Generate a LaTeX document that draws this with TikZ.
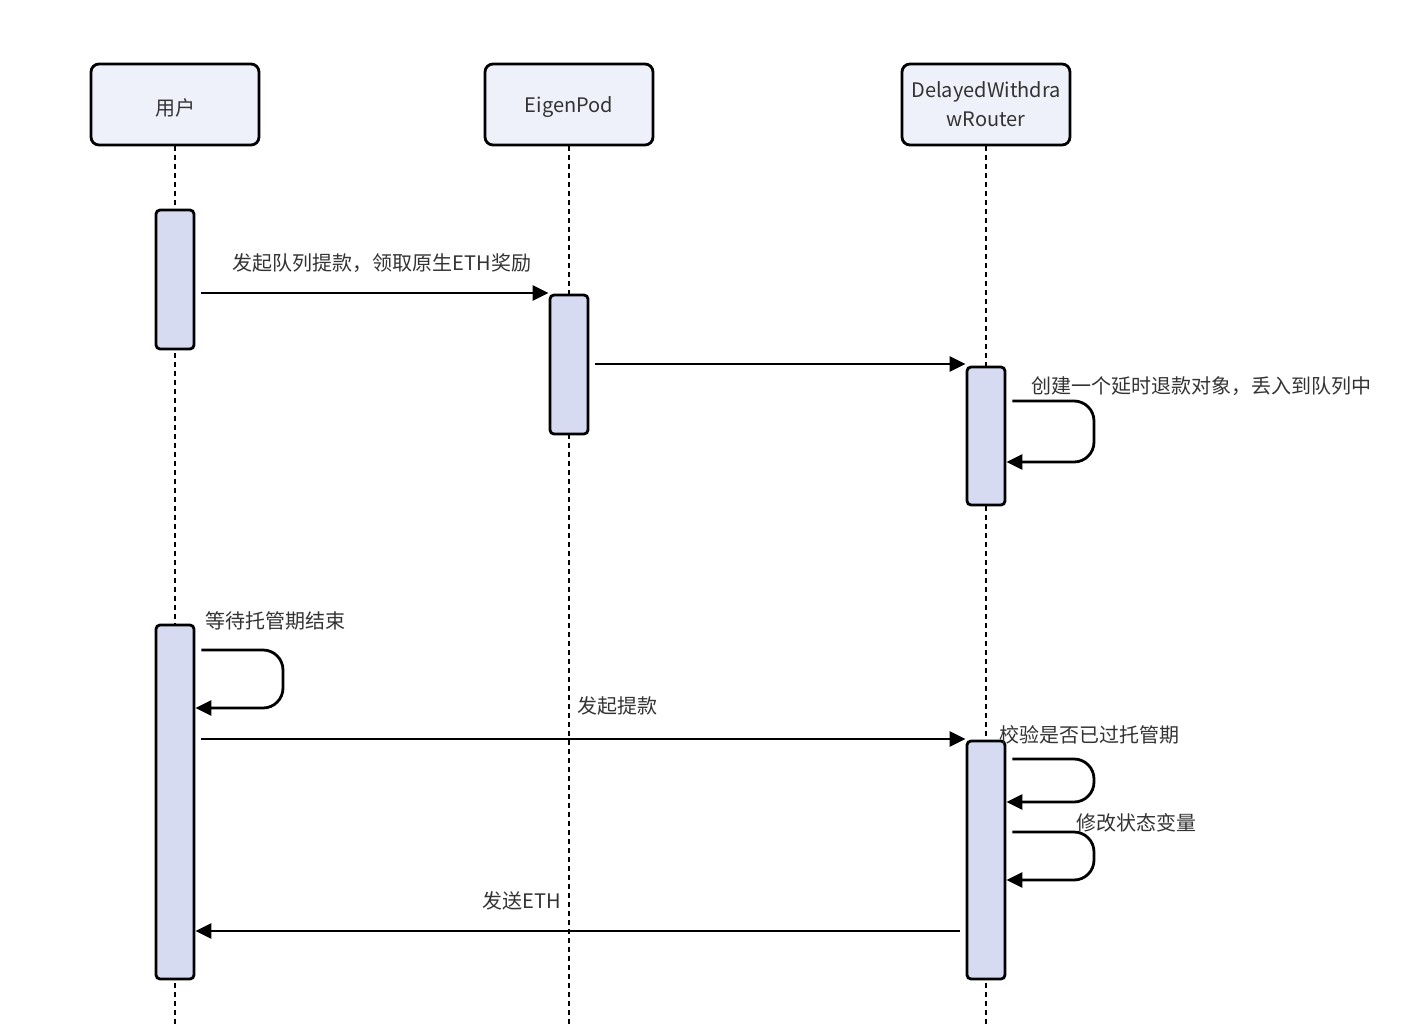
\documentclass[tikz,border=0pt]{standalone}
\usepackage{fontspec}
\setmainfont{Noto Sans CJK SC}
\usetikzlibrary{arrows.meta}
\definecolor{headfill}{HTML}{EEF0FA}
\definecolor{actfill}{HTML}{D6DBF2}
\definecolor{txt}{HTML}{333333}
\newcommand{\hdtext}[2]{\raisebox{-#1}[\height][\depth]{#2}}
\begin{document}
\begin{tikzpicture}[x=1pt,y=-1pt,
  head/.style={draw=black, line width=2.8pt, fill=headfill, rounded corners=8pt,
    minimum width=168pt, minimum height=81pt, inner sep=0pt, align=center,
    font=\fontsize{20}{29}\selectfont, text=txt},
  act/.style={draw=black, line width=2.8pt, fill=actfill, rounded corners=4pt,
    minimum width=38pt, inner sep=0pt},
  life/.style={line width=2.8pt, dash pattern=on 5pt off 4pt},
  msg/.style={line width=2.8pt, -{Triangle[length=16pt,width=15pt]}},
  selfmsg/.style={msg, rounded corners=20pt},
  lbl/.style={font=\fontsize{20}{24}\selectfont, text=txt, inner sep=0pt}]
\useasboundingbox (0,0) rectangle (1428,1026);
\fill[white] (0,0) rectangle (1428,1026);
% headers
\node[head] (user) at (175,104.5) {\hdtext{3pt}{用户}};
\node[head] (pod) at (569,104.5) {\hdtext{3pt}{EigenPod}};
\node[head] (dwr) at (986,104.5) {\hdtext{2pt}{\begin{tabular}{@{}c@{}}DelayedWithdra\\wRouter\end{tabular}}};
% lifeline ends
\coordinate (userEnd) at (175,1024);
\coordinate (podEnd) at (569,1024);
\coordinate (dwrEnd) at (986,1024);
\draw[life] (user.south) -- (userEnd);
\draw[life] (pod.south) -- (podEnd);
\draw[life] (dwr.south) -- (dwrEnd);
% activations
\node[act, minimum height=139pt] (u1) at (175,279.5) {};
\node[act, minimum height=139pt] (e1) at (569,364.5) {};
\node[act, minimum height=138pt] (d1) at (986,436) {};
\node[act, minimum height=354pt] (u2) at (175,802) {};
\node[act, minimum height=238pt] (d2) at (986,860) {};
% message levels
\coordinate (y1) at (0,293);
\coordinate (y2) at (0,364);
\coordinate (y3) at (0,739);
\coordinate (y4) at (0,931);
% messages
\draw[msg, shorten <=6pt] (u1.east |- y1) -- (e1.west |- y1);
\node[lbl] (l1) at (382,263) {发起队列提款，领取原生ETH奖励};
\draw[msg, shorten <=6pt] (e1.east |- y2) -- (d1.west |- y2);
% self loop d1
\coordinate (s1a) at (1094,401);
\coordinate (s1b) at (1094,462);
\draw[selfmsg, shorten <=6pt] (d1.east |- s1a) -- (s1a) -- (s1b) -- (d1.east |- s1b);
\node[lbl, anchor=west] (l2) at (1031,386) {创建一个延时退款对象，丢入到队列中};
% self loop u2
\coordinate (s2a) at (283,650);
\coordinate (s2b) at (283,708);
\draw[selfmsg, shorten <=6pt] (u2.east |- s2a) -- (s2a) -- (s2b) -- (u2.east |- s2b);
\node[lbl, anchor=west] (l3) at (205,621) {等待托管期结束};
% withdraw
\draw[msg, shorten <=6pt] (u2.east |- y3) -- (d2.west |- y3);
\node[lbl, anchor=west] (l4) at (577,706) {发起提款};
% self loops d2
\coordinate (s3a) at (1094,759);
\coordinate (s3b) at (1094,802);
\draw[selfmsg, shorten <=6pt] (d2.east |- s3a) -- (s3a) -- (s3b) -- (d2.east |- s3b);
\node[lbl, anchor=west] (l5) at (999,735) {校验是否已过托管期};
\coordinate (s4a) at (1094,832);
\coordinate (s4b) at (1094,880);
\draw[selfmsg, shorten <=6pt] (d2.east |- s4a) -- (s4a) -- (s4b) -- (d2.east |- s4b);
\node[lbl, anchor=west] (l6) at (1076,823) {修改状态变量};
% send ETH
\draw[msg, shorten <=6pt] (d2.west |- y4) -- (u2.east |- y4);
\node[lbl] (l7) at (522,901) {发送ETH};
\end{tikzpicture}
\end{document}
